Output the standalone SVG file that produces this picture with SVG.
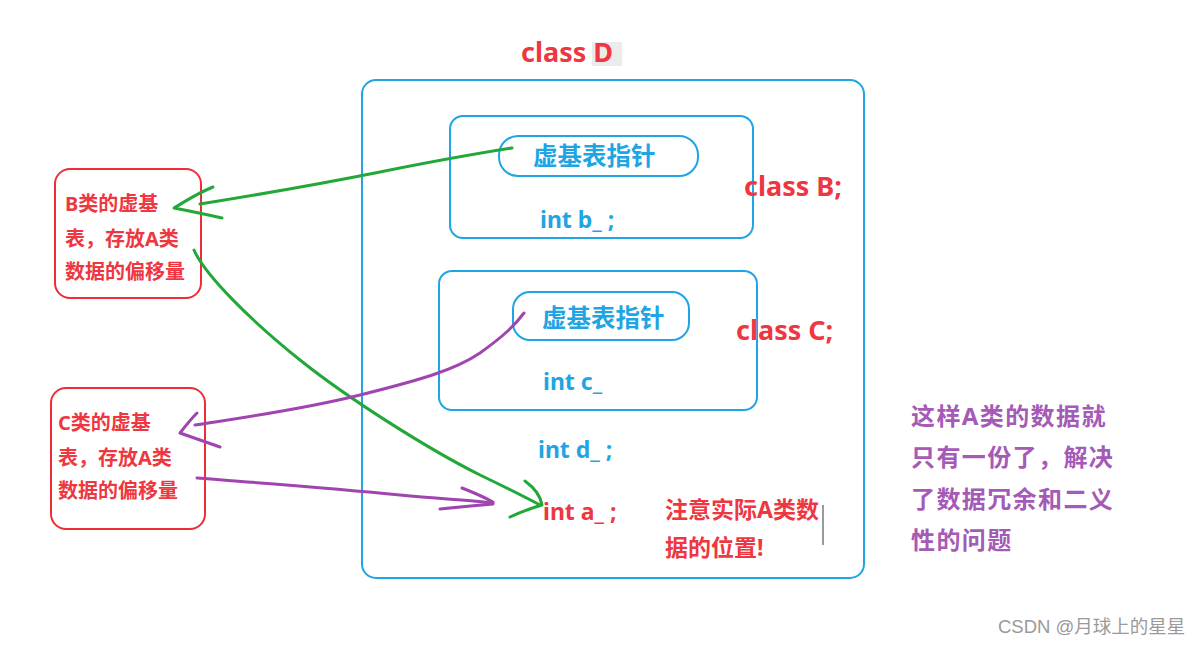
<svg xmlns="http://www.w3.org/2000/svg" width="1204" height="646" viewBox="0 0 1204 646">
<style>
.box{fill:none;stroke:#1FA5E3;stroke-width:2}
.rbox{fill:none;stroke:#EE2D36;stroke-width:2}
.t{font-family:"Noto Sans","Noto Sans CJK SC",sans-serif;font-weight:bold}
.blue{fill:#1FA5E3}
.red{fill:#EE3740}
.purp{fill:#A45AB6}
.g{fill:none;stroke:#22A838;stroke-width:3;stroke-linecap:round;stroke-linejoin:round}
.p{fill:none;stroke:#A045B0;stroke-width:3;stroke-linecap:round;stroke-linejoin:round}
</style>
<rect width="1204" height="646" fill="#fff"/>
<g id="classD">
<rect x="592" y="42" width="30" height="24" fill="#ebebeb"/>
<text class="t red" x="521" y="62" font-size="27">class D</text>
<rect class="box" x="362" y="80" width="502" height="498" rx="14"/>
</g>
<g id="classB">
<rect class="box" x="450" y="116" width="303" height="122" rx="13"/>
<rect class="box" x="499" y="136" width="199" height="40" rx="19"/>
<text class="t blue" x="533" y="165" font-size="24.5">虚基表指针</text>
<text class="t blue" x="540" y="228" font-size="23">int b_ ;</text>
<text class="t red" x="744" y="196" font-size="27">class B;</text>
</g>
<g id="classC">
<rect class="box" x="439" y="271" width="318" height="139" rx="13"/>
<rect class="box" x="513" y="292" width="176" height="48" rx="17"/>
<text class="t blue" x="542" y="327" font-size="24.5">虚基表指针</text>
<text class="t blue" x="543" y="390" font-size="23">int c_</text>
<text class="t red" x="736" y="340" font-size="27">class C;</text>
</g>
<g id="memberD">
<text class="t blue" x="538" y="458" font-size="23">int d_ ;</text>
</g>
<g id="memberA">
<text class="t red" x="543" y="520" font-size="23">int a_ ;</text>
</g>
<g id="note">
<text class="t red" x="665" y="518" font-size="23">注意实际A类数</text>
<text class="t red" x="665" y="556" font-size="23">据的位置!</text>
<line x1="823" y1="505" x2="823" y2="545" stroke="#9a9a9a" stroke-width="2"/>
</g>
<g id="vbtB">
<rect class="rbox" x="55" y="169" width="146" height="129" rx="15"/>
<text class="t red" x="65" y="211" font-size="20">B类的虚基</text>
<text class="t red" x="65" y="246" font-size="20">表，存放A类</text>
<text class="t red" x="65" y="279" font-size="20">数据的偏移量</text>
</g>
<g id="vbtC">
<rect class="rbox" x="51" y="388" width="154" height="141" rx="15"/>
<text class="t red" x="58" y="430" font-size="20">C类的虚基</text>
<text class="t red" x="58" y="465" font-size="20">表，存放A类</text>
<text class="t red" x="58" y="498" font-size="20">数据的偏移量</text>
</g>
<g id="summary">
<text class="t purp" x="911" y="425" font-size="24" letter-spacing="1.4">这样A类的数据就</text>
<text class="t purp" x="911" y="466" font-size="24" letter-spacing="1.4">只有一份了，解决</text>
<text class="t purp" x="911" y="508" font-size="24" letter-spacing="1.4">了数据冗余和二义</text>
<text class="t purp" x="911" y="549" font-size="24" letter-spacing="1.4">性的问题</text>
</g>
<g id="connectors">
<path class="g" d="M512,148 C480,153 440,160 380,172 S250,196 200,204"/>
<path class="g" d="M213,187 Q200,192 174,208 Q195,212 222,218"/>
<path class="g" d="M194,250 C205,275 250,320 300,360 C350,400 430,450 480,475 C505,487 525,497 540,505"/>
<path class="g" d="M525,481 Q540,492 542,505 Q525,510 510,517"/>
<path class="p" d="M524,313 C515,325 505,335 480,353 C455,370 420,380 360,395 C300,410 240,418 195,425"/>
<path class="p" d="M197,413 Q190,420 180,433 Q200,440 220,447"/>
<path class="p" d="M197,478 C260,483 330,488 400,495 C440,499 470,500 493,503"/>
<path class="p" d="M462,488 Q480,495 493,502 M440,509 Q470,506 493,504"/>
</g>
<text x="998" y="633" font-family="'Liberation Sans','Noto Sans CJK SC',sans-serif" font-size="18.5" fill="#9a9a9a">CSDN @月球上的星星</text>
</svg>
